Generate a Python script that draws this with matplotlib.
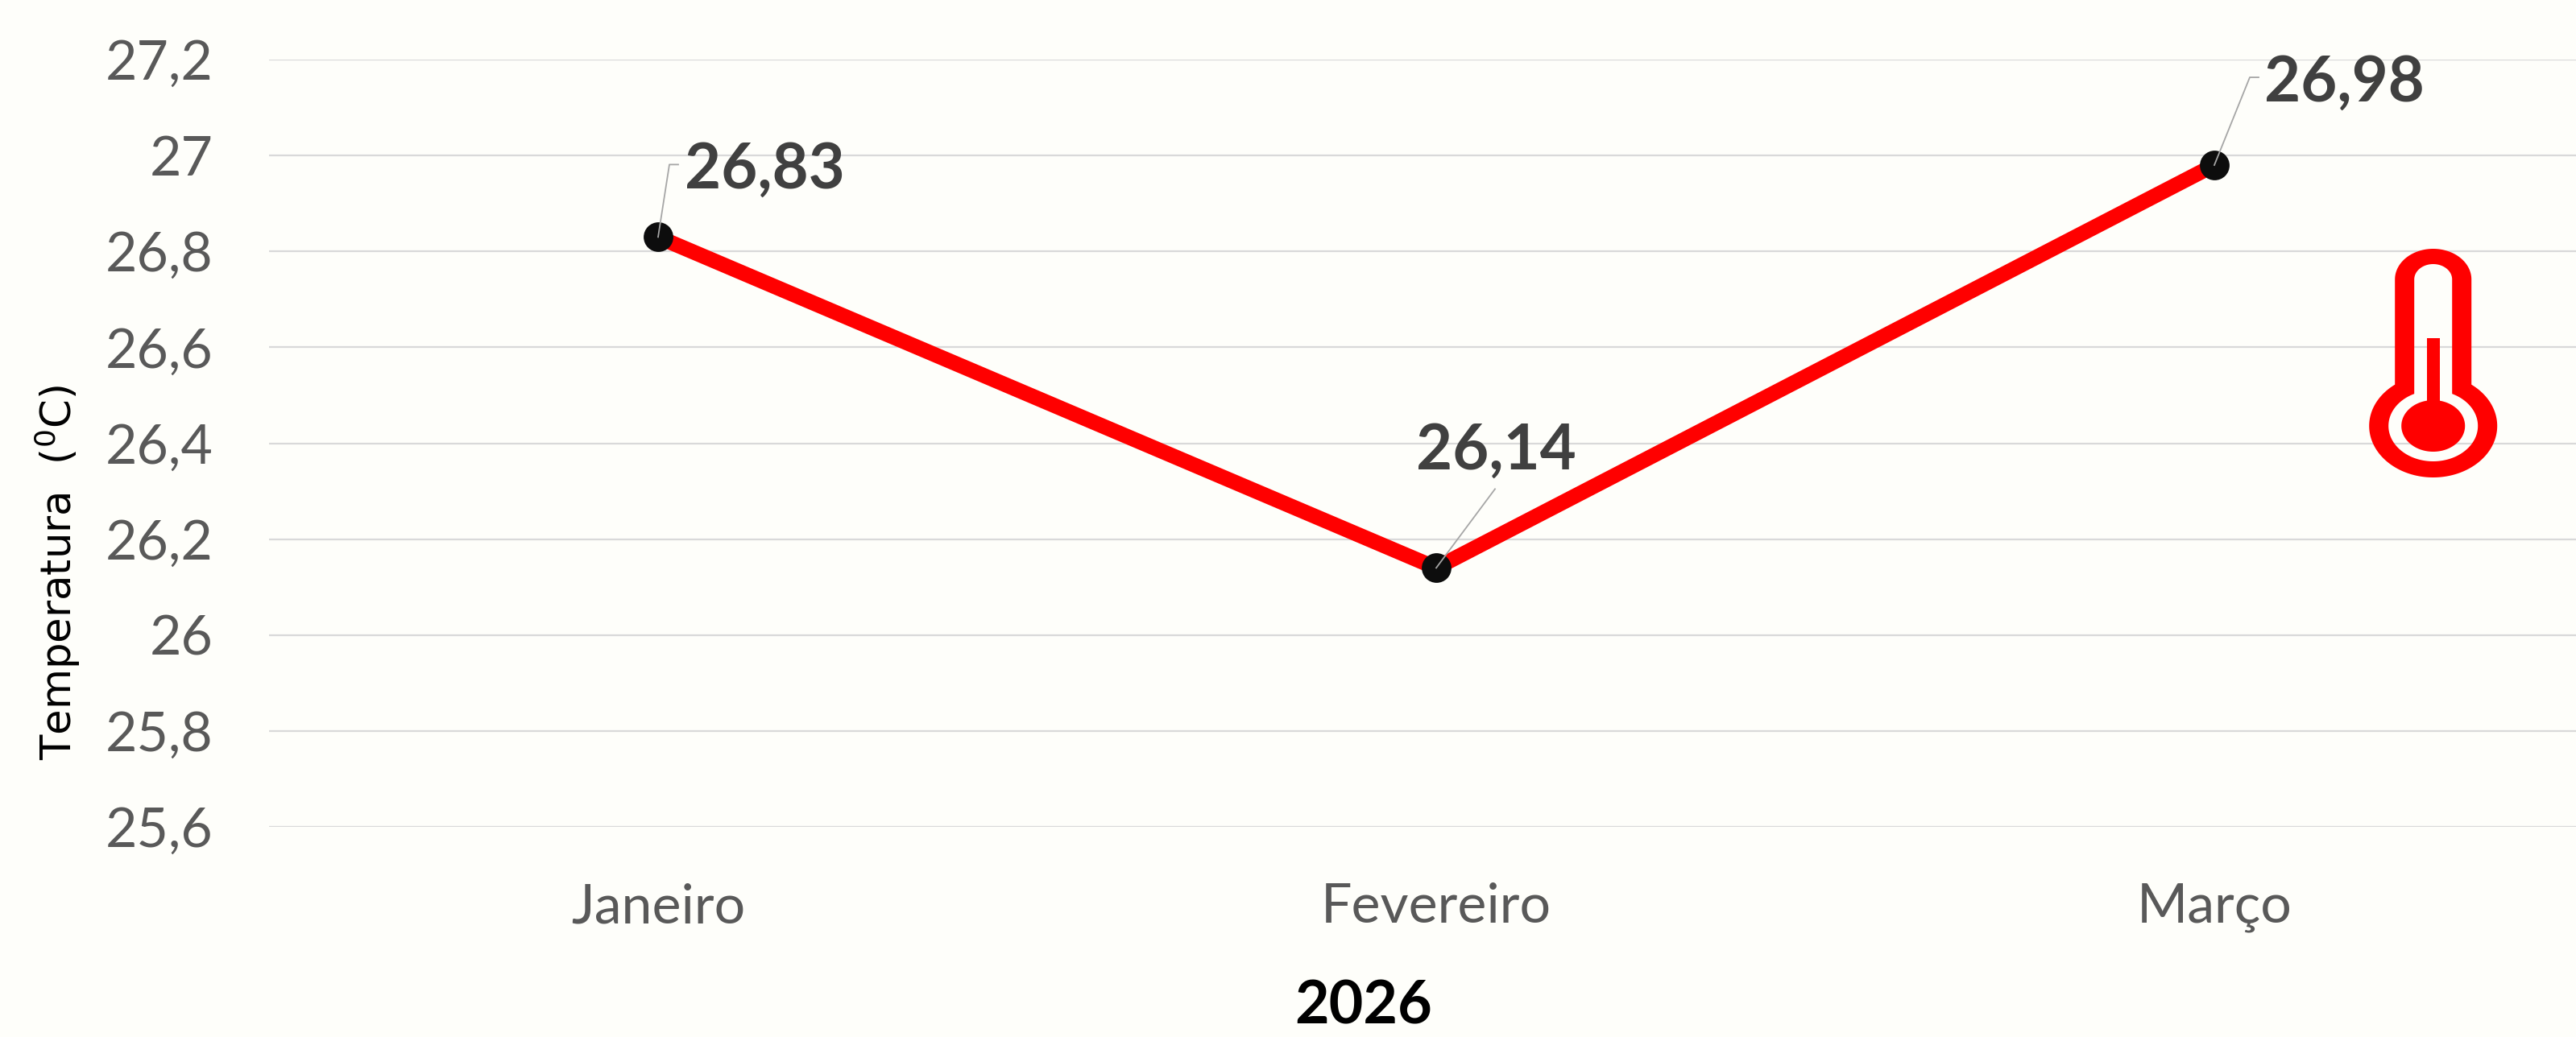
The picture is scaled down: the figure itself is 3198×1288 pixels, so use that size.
import matplotlib
matplotlib.use('Agg') # Headless mode
import matplotlib.pyplot as plt
import numpy as np
from matplotlib.patches import PathPatch
from matplotlib.path import Path
from matplotlib.transforms import IdentityTransform

months = ['Janeiro', 'Fevereiro', 'Março']
temperatures = [26.83, 26.14, 26.98]
value_labels = ['26,83', '26,14', '26,98']
y_ticks = [25.6, 25.8, 26.0, 26.2, 26.4, 26.6, 26.8, 27.0, 27.2]
y_tick_labels = ['25,6', '25,8', '26', '26,2', '26,4', '26,6', '26,8', '27', '27,2']
x_title = '2026'
y_title = 'Temperatura  ($\\mathregular{^{0}}$C)'

WIDTH, HEIGHT = 3198, 1288
BG = '#FEFEFA'
RED = '#FF0000'
LABEL_FONT = ['Lato', 'DejaVu Sans']


def px_x(x):
    return x / WIDTH


def px_y(y):
    # picture pixels count from the top
    return 1 - y / HEIGHT


def tube_outline(xc, half_w, top, cap_h, bulb_y, bulb_a, bulb_b, reverse=False):
    """Thermometer outline: rounded tube running into an elliptical bulb."""
    t = np.linspace(-np.pi / 2, np.pi / 2, 60)
    cap_x = xc + half_w * np.sin(t)
    cap_y = top + cap_h - cap_h * np.cos(t)
    start = np.arcsin(half_w / bulb_a)
    t = np.linspace(start, 2 * np.pi - start, 160)
    bulb_x = xc + bulb_a * np.sin(t)
    bulb_y_pts = bulb_y - bulb_b * np.cos(t)
    pts = np.column_stack([np.r_[cap_x, bulb_x], np.r_[cap_y, bulb_y_pts]])
    if reverse:
        pts = pts[::-1]
    return np.vstack([pts, pts[0]])


def draw_thermometer(fig):
    overlay = fig.add_axes([0, 0, 1, 1], facecolor='none')
    overlay.set_xlim(0, WIDTH)
    overlay.set_ylim(HEIGHT, 0)
    overlay.axis('off')
    xc, yc = 3020.7, 529
    rings = [tube_outline(xc, 47.5, 309, 38, yc, 79.5, 64),
             tube_outline(xc, 23.5, 328, 19, yc, 55.5, 44, reverse=True)]
    verts = []
    codes = []
    for ring in rings:
        verts.append(ring)
        codes += [Path.MOVETO] + [Path.LINETO] * (len(ring) - 2) + [Path.CLOSEPOLY]
    overlay.add_patch(PathPatch(Path(np.vstack(verts), codes), fc=RED, ec='none'))
    # mercury: bulb plus stem
    t = np.linspace(0, 2 * np.pi, 120)
    overlay.fill(xc + 39.5 * np.cos(t), yc + 32 * np.sin(t), color=RED, lw=0)
    overlay.fill([xc - 8, xc + 8, xc + 8, xc - 8], [420, 420, 505, 505], color=RED, lw=0)


def plot_chart(filename):
    fig = plt.figure(figsize=(WIDTH / 100, HEIGHT / 100), dpi=100, facecolor=BG)
    ax = fig.add_axes([px_x(334), px_y(1027), 2898 / WIDTH, (1027 - 74) / HEIGHT], facecolor=BG)

    x = np.arange(len(months))
    ax.plot(x, temperatures, color=RED, lw=13.5, solid_capstyle='butt', solid_joinstyle='round',
            marker='o', ms=26.5, mfc='#0D0D0D', mec='#0D0D0D', mew=0, zorder=3, clip_on=False)

    ax.set_xlim(-0.5, 2.5)
    ax.set_ylim(25.6, 27.2)
    ax.set_yticks(y_ticks)
    ax.set_yticklabels(y_tick_labels, family=LABEL_FONT, fontsize=49, color='#595959')
    ax.set_xticks(x)
    ax.set_xticklabels(months, family=LABEL_FONT, fontsize=49, color='#595959')
    ax.tick_params(axis='both', length=0)
    ax.tick_params(axis='y', pad=50)
    ax.tick_params(axis='x', pad=50)
    ax.grid(True, axis='y', color='#D9D9D9', lw=1.6)
    ax.set_axisbelow(True)
    for spine in ax.spines.values():
        spine.set_visible(False)

    # data labels, offsets in pixels from the point
    offsets = [(33, 61), (-25, 123), (62, 79)]
    leaders = [[(14, 90), (25, 90)], [(73, 98)], [(44, 109), (55, 109)]]
    for i, val in enumerate(temperatures):
        ax.annotate(value_labels[i], (i, val), xytext=offsets[i], textcoords='offset pixels',
                    family=LABEL_FONT, fontsize=56, fontweight='bold', color='#404040',
                    ha='left', va='baseline', zorder=5)
        bx, by = ax.transData.transform((i, val))
        xs = [bx] + [bx + p[0] for p in leaders[i]]
        ys = [by] + [by + p[1] for p in leaders[i]]
        ax.plot(xs, ys, color='#A6A6A6', lw=1.3, transform=IdentityTransform(), zorder=4, clip_on=False)

    fig.text(px_x(1693), px_y(1272), x_title, family=LABEL_FONT, fontsize=53, fontweight='bold',
             color='black', ha='center', va='baseline')
    fig.text(px_x(89), px_y(711), y_title, family='DejaVu Sans', fontsize=37, color='black',
             rotation=90, rotation_mode='anchor', ha='center', va='baseline')

    draw_thermometer(fig)
    fig.savefig(filename, dpi=100, facecolor=BG)
    plt.close(fig)


if __name__ == "__main__":
    plot_chart('out.png')
